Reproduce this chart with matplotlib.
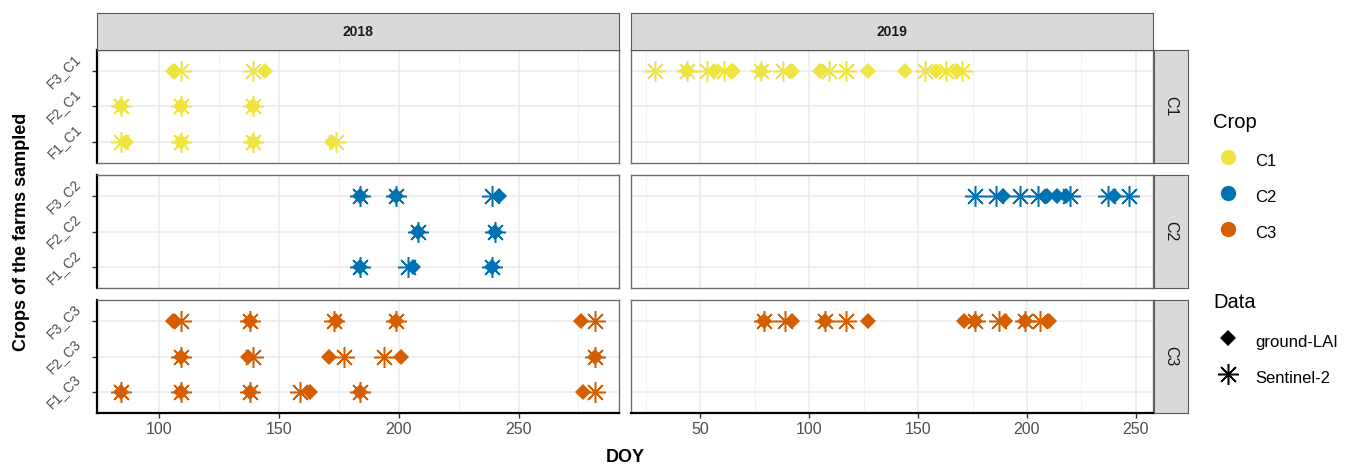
import matplotlib.pyplot as plt
from matplotlib.lines import Line2D
from matplotlib.ticker import MultipleLocator

plt.rcParams['font.family'] = ['Liberation Sans', 'DejaVu Sans']

years = ["2018", "2019"]
crops = ["C1", "C2", "C3"]
farms = ["F1", "F2", "F3"]
crop_colors = ["#F0E442", "#0072B2", "#D55E00"]

# sampling dates (DOY), one list per farm: F1, F2, F3
lai_2018_c1 = [[86, 109, 139, 172], [84, 109, 139], [106, 144]]
s2_2018_c1 = [[84, 109, 139, 174], [84, 109, 139], [109, 139]]
lai_2018_c2 = [[184, 206, 239], [208, 240], [184, 199, 242]]
s2_2018_c2 = [[184, 204, 239], [208, 240], [184, 199, 239]]
lai_2018_c3 = [[84, 109, 138, 163, 184, 277], [109, 137, 171, 201, 282], [106, 138, 174, 199, 276]]
s2_2018_c3 = [[84, 109, 138, 159, 184, 282], [109, 139, 177, 194, 282], [109, 138, 173, 199, 282]]

lai_2019_c1 = [[], [], [44, 56, 65, 78, 92, 105, 127, 144, 158, 168]]
s2_2019_c1 = [[], [], [29, 44, 53, 61, 78, 88, 109, 117, 153, 163, 170]]
lai_2019_c2 = [[], [], [189, 209, 214, 218, 240]]
s2_2019_c2 = [[], [], [176, 186, 197, 205, 220, 237, 247]]
lai_2019_c3 = [[], [], [79, 92, 107, 127, 171, 176, 190, 199, 210]]
s2_2019_c3 = [[], [], [79, 89, 107, 117, 176, 187, 199, 206]]

lai = {"2018": [lai_2018_c1, lai_2018_c2, lai_2018_c3],
       "2019": [lai_2019_c1, lai_2019_c2, lai_2019_c3]}
s2 = {"2018": [s2_2018_c1, s2_2018_c2, s2_2018_c3],
      "2019": [s2_2019_c1, s2_2019_c2, s2_2019_c3]}

W, H = 1349, 469
fig = plt.figure(figsize=(W / 100, H / 100), dpi=100)


def box(x, y, w, h):
    return [x / W, 1 - (y + h) / H, w / W, h / H]


ASTER = (8, 2, 0)
DIA_MS = 8
AST_MS = 15
col_x = [97, 631]
col_w = 522
row_y = [50, 175, 300]
row_h = 113
text_grey = "#4D4D4D"

for j, yr in enumerate(years):
    # shared x range within each year column, 5% padding like ggplot
    vals = [d for c in lai[yr] + s2[yr] for f in c for d in f]
    lo, hi = min(vals), max(vals)
    pad = (hi - lo) * 0.05
    for i, crop in enumerate(crops):
        ax = fig.add_axes(box(col_x[j], row_y[i], col_w, row_h))
        col = crop_colors[i]
        for k in range(3):
            g = lai[yr][i][k]
            s = s2[yr][i][k]
            ax.plot(g, [k + 1] * len(g), ls="none", marker="D", ms=DIA_MS,
                    mew=0, color=col, zorder=3)
            ax.plot(s, [k + 1] * len(s), ls="none", marker=ASTER, ms=AST_MS,
                    mew=1.1, color=col, zorder=3)
        ax.set_xlim(lo - pad, hi + pad)
        ax.set_ylim(0.4, 3.6)
        ax.xaxis.set_major_locator(MultipleLocator(50))
        ax.xaxis.set_minor_locator(MultipleLocator(25))
        ax.set_yticks([1, 2, 3])
        ax.grid(True, which="major", color="#EBEBEB", lw=1.1, zorder=0)
        ax.grid(True, which="minor", axis="x", color="#F2F2F2", lw=0.7, zorder=0)
        ax.set_axisbelow(True)
        ax.tick_params(which="minor", length=0)
        ax.tick_params(which="major", length=3.5, width=1, color="#333333",
                       labelcolor=text_grey)
        for sp in ax.spines.values():
            sp.set_color("#6E6E6E")
            sp.set_linewidth(1.0)
        if j == 0:
            ax.set_yticklabels([f"{f}_{crop}" for f in farms], rotation=45,
                               ha="right", va="center", fontsize=10)
            ax.tick_params(axis="y", pad=6)
            ax.spines["left"].set_color("black")
            ax.spines["left"].set_linewidth(1.6)
        else:
            ax.tick_params(axis="y", left=False, labelleft=False)
        if i == 2:
            ax.tick_params(axis="x", labelsize=11.5, pad=3)
            ax.spines["bottom"].set_color("black")
            ax.spines["bottom"].set_linewidth(1.6)
        else:
            ax.tick_params(axis="x", bottom=False, labelbottom=False)

# facet strips
for j, yr in enumerate(years):
    st = fig.add_axes(box(col_x[j], 13, col_w, 37))
    st.set_facecolor("#D9D9D9")
    st.set_xticks([])
    st.set_yticks([])
    for sp in st.spines.values():
        sp.set_color("#5A5A5A")
    st.text(0.5, 0.5, yr, ha="center", va="center", fontsize=10,
            fontweight="bold", color="#1A1A1A", transform=st.transAxes)

for i, crop in enumerate(crops):
    st = fig.add_axes(box(1154, row_y[i], 34, row_h))
    st.set_facecolor("#D9D9D9")
    st.set_xticks([])
    st.set_yticks([])
    for sp in st.spines.values():
        sp.set_color("#5A5A5A")
    st.text(0.5, 0.5, crop, ha="center", va="center", fontsize=11.5,
            rotation=-90, color="#1A1A1A", transform=st.transAxes)

fig.text(22 / W, 1 - 232 / H, "Crops of the farms sampled", rotation=90,
         ha="center", va="center", fontsize=13, fontweight="bold")
fig.text(625 / W, 1 - 457 / H, "DOY", ha="center", va="center",
         fontsize=13, fontweight="bold")

# legends: titles as plain text, keys below them
leg_kw = dict(loc="upper left", frameon=False, fontsize=12, borderpad=0,
              borderaxespad=0, handlelength=1.8, handletextpad=0.75,
              handleheight=2.0, labelspacing=0.62)
fig.text(1213 / W, 1 - 122 / H, "Crop", ha="left", va="center", fontsize=14.5)
crop_handles = [Line2D([], [], ls="none", marker="o", ms=11, mew=0, color=c)
                for c in crop_colors]
fig.legend(crop_handles, crops, bbox_to_anchor=(1213 / W, 1 - 148 / H),
           **leg_kw)

fig.text(1213 / W, 1 - 302 / H, "Data", ha="left", va="center", fontsize=14.5)
data_handles = [Line2D([], [], ls="none", marker="D", ms=DIA_MS, mew=0,
                       color="black"),
                Line2D([], [], ls="none", marker=ASTER, ms=AST_MS, mew=1.1,
                       color="black")]
fig.legend(data_handles, ["ground-LAI", "Sentinel-2"],
           bbox_to_anchor=(1213 / W, 1 - 329 / H), **leg_kw)

fig.savefig("out.png", dpi=100)
